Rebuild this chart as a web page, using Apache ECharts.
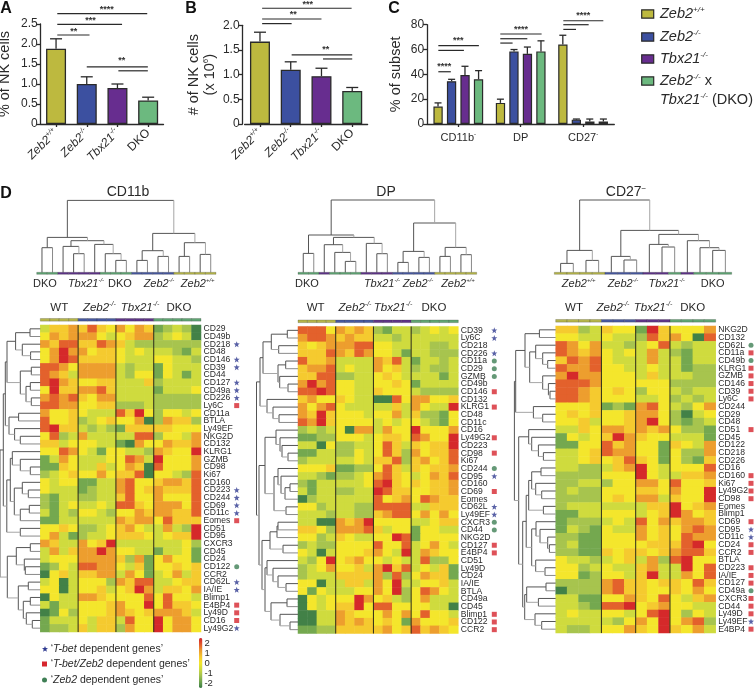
<!DOCTYPE html>
<html><head><meta charset="utf-8">
<style>html,body{margin:0;padding:0;background:#fff}#c{width:754px;height:688px}</style>
<script src="https://cdn.jsdelivr.net/npm/echarts@6/dist/echarts.min.js"></script>
</head><body><div id="c"></div>
<script>
// ---------- bar panels ----------
const genotypes = ['Zeb2+/+','Zeb2-/-','Tbx21-/-','DKO'];
const pctNK = [1.88,1.00,0.90,0.59];
const pctNKErr = [2.13,1.18,1.00,0.67];
const numNK = [1.67,1.10,0.97,0.67];
const numNKErr = [1.86,1.26,1.13,0.74];
const subsets = ['CD11b-','DP','CD27-'];
const subsetWT = [14,17,64];
const subsetZeb2 = [34.5,58.5,3.5];
const subsetTbx21 = [39.5,56.5,2];
const subsetDKO = [36,58.5,2];
const subsetWTErr = [17,20,71.5];
const subsetZeb2Err = [36,60,4];
const subsetTbx21Err = [46.5,62,4];
const subsetDKOErr = [43,67,4];
// significance: [from, to, value]
const sigA = [[0.04,2.97,2.76],[0.04,2.15,2.49],[0.04,1.09,2.225],[1,2.99,1.43],[2.03,2.99,1.33]];
const starsA = [[1.65,2.875,'****'],[1.12,2.6,'***'],[0.58,2.33,'**'],[2.14,1.6,'**']];
const sigB = [[0.07,2.98,2.345],[0.07,2,2.128],[0.07,1.03,2.034],[1.03,3,1.399],[2.05,3,1.318]];
const starsB = [[1.55,2.446,'***'],[1.08,2.23,'**'],[2.14,1.52,'**']];
const sigC = [[-0.32,0.33,63.1],[-0.32,0.09,59.3],[-0.32,-0.12,42.1],[0.673,1.335,72.5],[0.673,1.106,68.7],[0.673,0.87,65.2],[1.683,2.324,83.2],[1.683,2.089,80],[1.683,1.886,76.2]];
const starsC = [[0,67.7,'***'],[-0.224,47.5,'****'],[1.004,77,'****'],[2.003,88.3,'****']];

// ---------- heatmap rows ----------
const rowsCD11b = ['CD29','CD49b','CD218','CD48','CD146','CD39','CD44','CD127','CD49a','CD226','Ly6C','CD11a','BTLA','Ly49EF','NKG2D','CD132','KLRG1','GZMB','CD98','Ki67','CD160','CD223','CD244','CD69','CD11c','Eomes','CD51','CD95','CXCR3','CD45','CD24','CD122','CCR2','CD62L','IA/IE','Blimp1','E4BP4','Ly49D','CD16','Ly49G2'];
const rowsDP = ['CD39','Ly6C','CD218','CD226','CD11a','CD29','GZMB','CD49b','CD146','CD132','KLRG1','CD48','CD11c','CD16','Ly49G2','CD223','CD98','Ki67','CD244','CD95','CD160','CD69','Eomes','CD62L','Ly49EF','CXCR3','CD44','NKG2D','CD127','E4BP4','CD51','Ly49D','CD24','IA/IE','BTLA','CD49a','CD45','Blimp1','CD122','CCR2'];
const rowsCD27 = ['NKG2D','CD132','CD62L','CD11a','CD49b','KLRG1','GZMB','CD146','CD39','Ly6C','CD244','CD29','CD48','CD51','CD45','CD122','CD218','CD226','CD16','CD160','Ki67','Ly49G2','CD98','Eomes','Blimp1','CD69','CD95','CD11c','CD24','CCR2','BTLA','CD223','IA/IE','CD127','CD49a','CXCR3','CD44','Ly49D','Ly49EF','E4BP4'];
// colour levels, -4 (dark green) .. 4 (red)
const heatCD11b = [
[-1,1,1,2,1,3,1,0,2,0,2,1,-3,-2,-1,-2,-4],
[0,2,1,2,2,2,0,-1,0,1,2,2,-2,-1,0,-1,-4],
[2,1,3,3,1,1,3,2,1,-1,-2,-2,-2,-2,-2,-2,-2],
[0,2,4,2,2,0,1,1,0,-1,0,-1,-1,-1,-2,-3,-1],
[0,2,4,3,1,1,1,1,0,-1,-1,-1,0,0,-1,-1,-2],
[3,3,2,0,2,2,2,2,-1,-2,-1,-1,-3,0,-1,-1,-1],
[3,2,1,-1,2,2,2,2,-1,-2,0,0,-3,0,-1,-3,-1],
[3,4,2,1,0,0,1,1,-1,-1,-1,1,-2,-1,-1,-1,-1],
[0,4,1,1,2,2,3,1,-1,-1,-1,-1,-3,-1,-1,-1,0],
[2,3,2,3,1,0,2,2,-1,-1,-1,-1,-2,-2,-2,-2,-2],
[3,3,2,2,0,0,1,1,-2,-2,-2,-1,-2,-2,-2,-2,-2],
[2,0,0,1,0,-1,-1,-1,3,1,4,0,-2,0,0,-1,0],
[3,0,0,1,-2,-1,0,1,0,0,2,-4,-2,2,1,1,-2],
[3,4,1,1,-1,-2,-1,-2,-3,1,1,1,1,1,0,0,0],
[0,3,-2,-1,2,-1,-1,-1,-1,-1,3,3,-2,0,0,-1,2],
[1,1,-1,0,0,0,-1,-1,-3,-4,2,0,0,2,1,1,2],
[0,0,3,2,0,-1,-3,0,0,-1,-1,-2,2,1,0,0,4],
[-3,-1,2,0,-1,-1,-1,0,0,3,2,-1,4,0,0,0,2],
[-3,-3,1,0,-1,-1,1,-1,0,2,1,-4,3,0,0,0,2],
[-2,-1,0,1,0,0,2,0,1,1,3,-4,0,0,-1,-2,3],
[0,-1,0,0,-3,-3,-1,-1,2,3,0,0,1,2,2,1,3],
[0,-1,-1,-1,-3,-2,-1,-1,2,3,0,1,2,1,1,1,3],
[-2,-3,-1,-1,-2,-2,-1,-1,1,3,0,0,2,0,0,0,3],
[-2,-3,-1,0,-1,-1,0,-1,3,3,1,0,2,2,2,0,3],
[-1,-3,-1,-2,0,0,-1,-2,0,0,2,1,2,2,1,1,3],
[-3,-3,-1,-1,-1,-1,-1,-1,2,1,2,2,0,3,1,1,1],
[0,0,1,0,-2,-2,-1,0,1,2,0,-1,-1,2,-1,-2,4],
[0,2,-1,-3,-2,-1,-1,0,1,1,1,0,-1,0,1,1,4],
[2,1,-1,-1,2,0,1,4,-1,-1,-1,-1,-1,-1,-1,0,-2],
[-1,2,-1,1,2,2,4,2,0,0,-1,-1,-3,-1,-1,0,-3],
[-1,0,0,0,2,2,2,2,1,-2,2,-3,0,2,0,0,-3],
[-3,-2,0,-1,3,3,2,2,0,-1,1,-3,0,0,1,0,1],
[-4,0,1,-1,1,1,2,2,-1,2,0,-3,-1,0,2,-1,1],
[-1,0,-4,-1,0,0,0,-2,2,1,3,3,-1,-1,0,1,1],
[0,0,-4,-1,0,0,1,-1,0,1,4,2,-1,1,1,0,2],
[-4,0,-1,-1,2,2,1,0,0,0,0,3,0,3,0,0,-1],
[-1,-3,-1,-1,0,0,0,1,2,0,0,4,0,3,1,1,0],
[-4,-3,0,-2,0,0,0,1,2,1,0,1,2,2,2,1,-1],
[-3,-1,-1,-1,0,-1,1,1,-1,3,0,0,4,0,2,2,0],
[-3,-2,-2,-1,1,-1,1,1,-2,2,0,0,4,0,2,2,0]];
const heatDP = [
[3,3,3,0,2,1,2,1,-2,-3,-1,-1,-2,-1,0,-1,0],
[2,3,3,2,1,2,1,1,-1,-1,-2,-1,-1,-1,-1,-1,-1],
[1,0,1,2,2,2,3,3,0,0,-1,-1,-1,-1,-2,-2,-1],
[1,1,1,3,2,1,3,2,0,0,-1,-3,-1,-1,-2,-2,-2],
[3,1,1,2,-1,-1,-1,-1,2,1,3,-1,-3,-1,-1,-2,-1],
[1,2,2,3,-1,0,-1,-1,2,0,1,-1,-2,-1,-2,-2,-1],
[1,1,3,3,-2,-2,-1,-1,0,1,0,-1,-1,-1,-1,-3,-1],
[2,4,2,3,0,0,-1,-1,0,0,1,0,-3,-1,-1,-1,-1],
[3,3,4,3,0,0,-1,-1,1,0,0,0,-1,-2,-2,-2,-2],
[1,2,0,0,1,0,-1,-1,-4,-4,3,0,2,2,0,0,1],
[2,0,2,3,0,-1,-1,-1,-1,-1,1,-1,2,0,-1,-1,4],
[2,1,4,1,0,0,0,-1,0,0,2,-1,1,-2,-2,-3,0],
[3,2,4,1,0,0,0,0,-1,0,-1,0,0,-1,-2,-3,0],
[-2,-1,-2,-1,0,-4,2,2,-1,2,0,0,4,0,0,0,2],
[-3,-3,-2,-2,0,0,0,-1,0,1,1,0,3,2,0,0,4],
[-1,-1,-4,0,-2,-2,-1,-1,0,3,1,-1,1,0,1,1,4],
[-3,-3,-1,-1,-2,-2,0,-1,0,3,1,-2,2,0,1,1,3],
[-2,-1,-1,-1,-1,-1,0,-1,1,1,3,-2,1,2,0,1,3],
[0,0,0,1,-3,-3,-2,-2,0,3,1,-1,1,0,1,1,2],
[-1,-1,-2,-3,-2,-2,-1,0,2,3,1,0,-1,0,2,1,3],
[-2,-3,-1,-1,-1,-1,-1,0,3,4,1,0,1,0,1,1,2],
[-1,-3,-1,-1,-2,-2,-1,-1,4,3,1,1,0,0,1,1,2],
[-4,-2,-1,-1,-1,-1,-1,-1,3,0,1,2,0,3,2,1,1],
[0,0,-2,-1,-1,-1,-2,-2,3,3,3,3,-1,-1,1,1,1],
[-1,-1,-1,-2,-1,-1,-2,-2,1,2,3,3,0,2,0,2,0],
[-1,-1,-4,-4,2,1,2,4,0,0,0,0,-1,-1,0,1,1],
[1,1,0,-2,2,2,2,3,1,-1,0,0,-3,0,0,-1,-1],
[0,0,-2,-1,1,0,-1,-1,0,0,4,3,-3,0,0,0,0],
[-2,-1,-2,-2,0,0,0,0,3,0,0,3,-1,0,2,0,-1],
[0,-1,-4,-1,0,0,0,1,2,0,-1,4,-1,2,1,0,0],
[-1,-2,0,4,0,1,2,0,0,-1,0,-1,-1,3,-2,-2,0],
[-2,-1,0,2,0,0,1,-1,2,4,1,3,-1,0,-1,1,-3],
[-2,-1,-1,-1,1,1,1,1,2,-2,3,-2,0,2,1,1,-3],
[0,0,-4,-1,-1,1,1,-1,2,0,4,-1,-1,0,0,1,-1],
[0,-3,0,-1,-1,-1,0,0,2,0,4,-2,0,3,2,0,-1],
[-4,0,-1,0,0,0,4,2,0,1,-1,-2,0,2,-1,-1,-1],
[-4,0,-1,0,1,1,4,0,3,3,0,0,0,0,-1,-1,-4],
[-4,-4,-1,-1,2,1,0,0,0,2,0,2,0,3,0,0,-1],
[-4,-4,-1,-1,2,1,2,1,0,1,0,-3,2,0,0,0,1],
[-3,-3,-2,-2,1,1,1,1,1,2,0,1,3,1,2,1,0]];
const heatCD27 = [
[1,1,-2,-1,1,0,0,-3,4,1,0,0,0,2],
[0,0,-1,-1,0,-1,-1,-2,3,1,2,0,-4,3],
[3,2,0,2,-1,-1,-2,-1,0,3,-1,-2,-1,-1],
[3,2,1,2,0,-1,0,-1,2,-1,-2,-3,-1,-1],
[1,3,2,3,0,-1,-1,-1,2,-1,-1,-3,-1,-1],
[3,2,2,3,0,0,-1,-1,0,-1,-1,-3,-2,-2],
[2,4,2,2,0,0,0,-1,1,-1,-1,-1,-2,-2],
[3,3,3,2,0,0,0,0,0,0,-2,-2,-2,-2],
[3,3,2,1,0,1,0,-2,0,0,-1,-2,-1,-1],
[3,3,2,1,0,0,0,-1,-1,0,-2,-1,-2,-1],
[0,0,0,1,-3,-2,-3,2,3,0,-1,-2,0,2],
[0,1,0,1,0,0,1,2,2,0,-2,-4,-1,0],
[0,0,1,-1,0,0,1,2,4,0,-2,-3,-2,-1],
[-1,-1,1,0,2,2,1,2,1,2,0,-2,-2,-3],
[-3,0,-1,0,1,4,2,1,0,0,-1,-1,-1,-3],
[-3,-3,0,0,3,1,2,0,0,-3,1,0,-1,2],
[-1,-1,0,1,3,2,2,0,0,-3,0,-2,-2,2],
[-1,-1,0,1,0,1,3,1,0,-3,0,-2,-3,1],
[-1,-1,-2,-2,-1,1,2,4,0,-1,0,0,0,3],
[-2,-2,-2,-2,0,0,0,4,0,-1,-1,1,1,2],
[-2,-2,-1,-1,-2,0,0,2,2,0,3,0,0,1],
[-2,-1,-2,-2,0,0,0,1,1,0,2,0,0,4],
[-2,-2,-2,-2,0,1,0,2,2,-1,1,0,0,4],
[-2,-1,-1,-1,-1,-1,-1,-1,1,1,4,0,1,2],
[-3,-3,-1,-1,0,0,0,-1,0,1,4,2,0,1],
[-3,-2,-2,-2,-1,0,-1,3,0,2,1,2,2,1],
[-3,-1,-2,-3,0,-1,-1,2,0,1,0,2,3,2],
[-2,-2,-3,-3,0,0,0,2,0,1,0,3,2,2],
[-2,-1,-3,-3,0,0,0,0,1,1,1,3,4,0],
[-2,-2,-3,-3,1,0,1,1,0,1,2,3,3,1],
[0,-1,-1,-2,-1,0,1,-1,2,-2,3,4,0,0],
[0,0,-2,-1,0,-1,-1,1,2,-1,-1,4,0,3],
[0,0,-3,-2,0,0,-1,1,4,-1,-1,2,0,3],
[-2,-2,-2,-2,2,3,1,1,0,1,1,0,3,1],
[-4,-2,-2,-2,2,3,1,1,0,0,1,0,2,0],
[-1,-1,-3,-3,0,0,2,1,0,3,0,-1,1,2],
[-1,-1,-2,-3,3,3,4,0,1,2,0,0,-1,-1],
[-1,0,-1,-1,0,0,-1,0,3,4,0,-2,0,-1],
[-1,-1,-1,-1,-1,-2,0,2,0,4,0,2,3,-2],
[-1,-2,-2,-1,0,0,2,1,0,4,1,0,2,-1]];
const zPerLevel = 0.6;
const levelColors = ['#3a7a45','#6ea44f','#a4c24f','#cddb3f','#f4e62c','#f5c92f','#ec9a2e','#e2592c','#d2202a'];

// group sizes along the columns of each heatmap
const heatGroups = ['WT','Zeb2-/-','Tbx21-/-','DKO'];
const groupsCD11b = [4,4,4,5];
const groupsDP = [4,4,4,5];
const groupsCD27 = [4,3,3,4];

// dendrogram trees: [height, left, right]; 0 = next leaf
const colTreeCD11b = [72.3,[35.3,[25,0,0],[32,[26.3,0,[19,0,0]],[28.3,0,[19,0,[12.3,0,0]]]]],[39.3,[22,[12.3,0,0],[16.3,0,0]],[30,[16.3,0,0],[18.3,0,0]]]];
const colTreeDP = [72.7,[37.7,[19.3,0,0],[35.3,[28,0,[20.3,0,[11.3,0,0]]],[29.3,0,[19,0,0]]]],[49.7,[21.3,[10.3,0,0],[15.3,0,0]],[25.3,[16.3,0,0],[18,0,0]]]];
const colTreeCD27 = [72.7,[22.3,[9.3,0,0],[12.3,0,0]],[42.3,[16.3,0,[12.7,0,0]],[38.3,[28.3,0,[25.7,0,0]],[32,0,[25,0,[22.3,0,0]]]]]];
// leaf colours along each column tree (index into genotypes)
const colLeavesCD11b = [3,3,2,2,2,2,3,3,3,1,1,1,1,0,0,0,0];
const colLeavesDP = [3,3,2,3,3,3,2,2,2,1,1,1,1,0,0,0,0];
const colLeavesCD27 = [0,0,0,0,1,1,1,2,2,3,2,3,3,3];

const rowTreeCD11b = [40.3,[37,[35,[33.3,[24.7,[10.3,0,0],[18,0,[9.7,0,0]]],[20,[9,0,0],[14.3,[10,0,0],[9,0,0]]]],[31.3,[21.7,0,0],[25.7,0,[20,0,0]]]],[33.5,[30,[28,0,[20,0,[10,0,0]]],[26,[18,0,[12,0,0]],[20,[11,0,0],0]]],[20,0,0]]],[33,[24,[10,0,0],[16,0,[15,0,0]]],[22,[12,0,0],[17,[10,0,0],[14,0,[8,0,0]]]]]];
const rowTreeDP = [41.5,[38,[35,[26.7,[10.7,0,0],[19.3,0,0]],[20,[12.3,0,0],[18.3,0,[10,0,0]]]],[31,0,[25,0,[19,0,0]]]],[39,[33,[22,0,[18,0,[16,0,[10,0,0]]]],[24,[20,0,[17,0,[13,[8,0,0],0]]],[12,0,0]]],[36,[28,[21,[20,0,0],0],[15,0,0]],[33,[31,0,[25,0,[20,0,[12,0,0]]]],[27,[11,0,0],[18,0,[8,0,0]]]]]]];
const rowTreeCD27 = [41.3,[40,[30.7,[16.3,0,0],[26,[20,0,[13,0,[8,0,0]]],[13,0,[7.3,0,[5.7,0,0]]]]],[22.3,0,[13,0,0]]],[37,[27,0,[24,0,[17.3,0,[12.3,0,0]]]],[33,[29.5,[27,[24,[14.7,0,0],[20,0,[14,0,0]]],[12.3,0,0]],[24,[19.7,0,[15.7,0,[8,0,[6.3,0,0]]]],[20,0,[10.7,0,0]]]],[31,[29,[9.7,0,0],[17.3,0,0]],[20.7,0,[14,0,0]]]]]];

// dependent-gene markers
const tBetCD11b = ['CD218','CD146','CD39','CD127','CD49a','CD226','CD223','CD244','CD69','CD11c','CD62L','IA/IE','Ly49G2'];
const bothCD11b = ['Ly6C','Eomes','E4BP4','Ly49D','CD16'];
const zebCD11b = ['CD122'];
const tBetDP = ['CD39','Ly6C','CD226','CD95','CD62L','Ly49EF'];
const bothDP = ['CD146','KLRG1','Ly49G2','CD98','CD69','CD127','E4BP4','Blimp1','CD122','CCR2'];
const zebDP = ['CD11a','CD29','GZMB','CD244','CXCR3','CD44'];
const tBetCD27 = ['CD95','CD11c','Ly49EF'];
const bothCD27 = ['CD11a','KLRG1','GZMB','CD146','CD39','Ly6C','CD51','CD160','Ki67','Ly49G2','CD98','CD69','CD24','CCR2','CD223','IA/IE','CD127','CXCR3','CD44','Ly49D','E4BP4'];
const zebCD27 = ['CD62L','CD49b','CD49a'];

// ---------- style ----------
const FONT = '"Liberation Sans",Arial,sans-serif';
const INK = '#2a2a2a';
const genoColors = ['#bdb93f','#3c50a0','#672d8f','#6cb97f'];
const bandColors = ['#b5b54a','#47589f','#5e3488','#5fa573'];
const markBlue='#2f3a90', markRed='#d6262e', markGreen='#3f7f55';
const STAR='path://M5 0L6.3 3.4L10 3.6L7.1 5.9L8.1 9.6L5 7.5L1.9 9.6L2.9 5.9L0 3.6L3.7 3.4Z';

const rich = {
  i:{fontStyle:'italic',fontFamily:FONT,color:INK},
  n:{fontFamily:FONT,color:INK},
  s:{fontStyle:'italic',fontFamily:FONT,color:INK,verticalAlign:'top'},
  u:{fontFamily:FONT,color:INK,verticalAlign:'top'}
};
function richSet(size){
  const sup=Math.round(size*0.58);
  return {
    i:{...rich.i,fontSize:size,lineHeight:size+2},
    n:{...rich.n,fontSize:size,lineHeight:size+2},
    s:{...rich.s,fontSize:sup,lineHeight:sup+1},
    u:{...rich.u,fontSize:sup,lineHeight:sup+1}
  };
}
function fmtName(n){
  let m=n.match(/^(Zeb2|Tbx21)(.*)$/);
  if(m) return '{i|'+m[1]+'}{s|'+m[2]+'}';
  m=n.match(/^(CD\d+b?)-$/);
  if(m) return '{n|'+m[1]+'}{u|-}';
  return '{n|'+n+'}';
}

const grids=[],xAxes=[],yAxes=[],series=[],graphic=[];
function addGrid(g){grids.push(Object.assign({containLabel:false,outerBoundsMode:'none'},g));return grids.length-1;}

function tx(x,y,text,size,extra){
  graphic.push({type:'text',x,y,silent:true,z:20,style:Object.assign({text,fontFamily:FONT,fontSize:size,fill:INK,
    align:'center',verticalAlign:'middle',rich:richSet(size)},extra||{})});
}
function axisStyle(){return {lineStyle:{color:INK,width:1.3}};}

function overlay(xIdx,yIdx,sig,stars,errs,capHalf){
  series.push({type:'custom',xAxisIndex:xIdx,yAxisIndex:yIdx,silent:true,z:6,clip:false,
    data:errs.map((e,i)=>[e[0],e[2]]),
    renderItem:(p,api)=>{
      const e=errs[p.dataIndex],a=api.coord([e[0],e[1]]),b=api.coord([e[0],e[2]]);
      return {type:'group',children:[
        {type:'line',shape:{x1:a[0],y1:a[1],x2:b[0],y2:b[1]},style:{stroke:INK,lineWidth:1.3}},
        {type:'line',shape:{x1:b[0]-capHalf,y1:b[1],x2:b[0]+capHalf,y2:b[1]},style:{stroke:INK,lineWidth:1.3}}]};
    }});
  series.push({type:'custom',xAxisIndex:xIdx,yAxisIndex:yIdx,silent:true,z:6,clip:false,
    data:sig.map(s=>[s[0],s[2]]),
    renderItem:(p,api)=>{
      const s=sig[p.dataIndex],a=api.coord([s[0],s[2]]),b=api.coord([s[1],s[2]]);
      return {type:'line',shape:{x1:a[0],y1:a[1],x2:b[0],y2:b[1]},style:{stroke:INK,lineWidth:1.2}};
    }});
  series.push({type:'custom',xAxisIndex:xIdx,yAxisIndex:yIdx,silent:true,z:6,clip:false,
    data:stars.map(s=>[s[0],s[1]]),
    renderItem:(p,api)=>{
      const s=stars[p.dataIndex],a=api.coord([s[0],s[1]]);
      return {type:'text',x:a[0],y:a[1]+1,style:{text:s[2],fontFamily:FONT,fontSize:9,fontWeight:'bold',fill:'#333',align:'center',verticalAlign:'middle'}};
    }});
}

function barPanel(o){
  const g=addGrid({left:o.left,top:o.top,width:o.width,height:o.height});
  const xc=xAxes.length;
  xAxes.push({type:'category',gridIndex:g,data:o.cats,boundaryGap:true,
    axisLine:axisStyle(),axisTick:{show:true,alignWithLabel:true,length:3,lineStyle:{color:INK,width:1.3}},
    axisLabel:{interval:0,rotate:o.rotate||0,margin:o.margin||6,fontFamily:FONT,fontSize:o.labSize,color:INK,
      formatter:fmtName,rich:richSet(o.labSize)},splitLine:{show:false}});
  xAxes.push({type:'value',gridIndex:g,min:-0.5,max:o.cats.length-0.5,show:false});
  const y=yAxes.length;
  yAxes.push({type:'value',gridIndex:g,min:0,max:o.max,interval:o.interval,
    axisLine:{show:true,...axisStyle(),onZero:false},axisTick:{show:true,length:4,lineStyle:{color:INK,width:1.3}},
    offset:o.axisOffset||0,
    axisLabel:{margin:3,fontFamily:FONT,fontSize:12,color:INK,
      formatter:v=>v===0?'0':(o.decimals?v.toFixed(o.decimals):String(v))},splitLine:{show:false},
    name:o.name,nameLocation:'middle',nameRotate:90,nameGap:o.nameGap,
    nameTextStyle:{fontFamily:FONT,fontSize:14.5,color:INK,rich:o.nameRich||undefined}});
  return {xc,xo:xc+1,y};
}

// Panel A
let ax=barPanel({left:40.7,top:24,width:122.8,height:100,cats:genotypes,max:2.5,interval:0.5,decimals:1,rotate:45,labSize:12,margin:7,name:'% of NK cells',nameGap:28});
series.push({type:'bar',xAxisIndex:ax.xc,yAxisIndex:ax.y,barWidth:20,z:3,
  data:pctNK.map((v,i)=>({value:v,itemStyle:{color:genoColors[i],borderColor:INK,borderWidth:1.3}}))});
overlay(ax.xo,ax.y,sigA,starsA,pctNK.map((v,i)=>[i,v,pctNKErr[i]]),6);
// Panel B
ax=barPanel({left:244.6,top:25.3,width:123,height:98.7,cats:genotypes,max:2,interval:0.5,decimals:1,rotate:45,labSize:12,margin:7,axisOffset:2,
  name:'{n|# of NK cells}\n{n|(x 10}{u|6}{n|)}',nameGap:24,nameRich:richSet(14.5)});
series.push({type:'bar',xAxisIndex:ax.xc,yAxisIndex:ax.y,barWidth:20,z:3,
  data:numNK.map((v,i)=>({value:v,itemStyle:{color:genoColors[i],borderColor:INK,borderWidth:1.3}}))});
overlay(ax.xo,ax.y,sigB,starsB,numNK.map((v,i)=>[i,v,numNKErr[i]]),6);
// Panel C
ax=barPanel({left:427.1,top:24.7,width:187.2,height:99.3,cats:subsets,max:80,interval:20,labSize:11,margin:7,name:'% of subset',nameGap:24});
const subsetVals=[subsetWT,subsetZeb2,subsetTbx21,subsetDKO];
const subsetErrs=[subsetWTErr,subsetZeb2Err,subsetTbx21Err,subsetDKOErr];
subsetVals.forEach((vals,k)=>{
  series.push({type:'bar',name:genotypes[k],xAxisIndex:ax.xc,yAxisIndex:ax.y,barWidth:9.3,barGap:'45%',z:3,
    itemStyle:{color:genoColors[k],borderColor:INK,borderWidth:1.2},data:vals});
});
const barOffsets=[-0.325,-0.107,0.107,0.325];
const errC=[];
subsetVals.forEach((vals,k)=>vals.forEach((v,i)=>errC.push([i+barOffsets[k],v,subsetErrs[k][i]])));
overlay(ax.xo,ax.y,sigC,starsC,errC,3.5);

// ---------- trees ----------
function layoutTree(tree){
  let leaf=0;const segs=[];
  (function walk(n){
    if(n===0){const p=leaf+0.5;leaf++;return {p,h:0};}
    const a=walk(n[1]),b=walk(n[2]);
    segs.push([a.p,a.h,b.p,b.h,n[0]]);
    return {p:(a.p+b.p)/2,h:n[0]};
  })(tree);
  return {segs,leaves:leaf};
}
function drawTree(xi,yi,segs,horizontal){
  const P=(api,pos,h)=>horizontal?api.coord([h,pos]):api.coord([pos,h]);
  series.push({type:'custom',xAxisIndex:xi,yAxisIndex:yi,silent:true,z:4,clip:false,
    data:segs.map((s,i)=>horizontal?[s[4],s[0]]:[s[0],s[4]]),
    renderItem:(p,api)=>{
      const s=segs[p.dataIndex];
      const a0=P(api,s[0],s[1]),a1=P(api,s[0],s[4]),b1=P(api,s[2],s[4]),b0=P(api,s[2],s[3]);
      return {type:'group',children:[
        {type:'polyline',shape:{points:[a0,a1,b1]},style:{stroke:'#555',lineWidth:1,fill:null}},
        {type:'line',shape:{x1:b1[0],y1:b1[1],x2:b0[0],y2:b0[1]},style:{stroke:s[3]===0?'#8a8a8a':'#a6a6a6',lineWidth:1}}]};
    }});
}
function leafBand(xi,yi,leafCols,yFrom,yTo){
  series.push({type:'custom',xAxisIndex:xi,yAxisIndex:yi,silent:true,z:5,clip:false,
    data:leafCols.map((c,i)=>[i,yFrom]),
    renderItem:(p,api)=>{
      const i=p.dataIndex,a=api.coord([i,yFrom]),b=api.coord([i+1,yTo]);
      return {type:'rect',shape:{x:a[0],y:Math.min(a[1],b[1]),width:b[0]-a[0],height:Math.abs(b[1]-a[1])},
        style:{fill:bandColors[leafCols[i]],stroke:'rgba(40,40,40,.45)',lineWidth:0.5}};
    }});
}

// ---------- heat panels ----------
const heatSeriesIdx=[];
function heatPanel(o){
  const nCols=o.heat[0].length,nRows=o.rows.length;
  const colNames=o.heat[0].map((_,i)=>String(i));
  const cw=o.width/nCols;
  // heat grid
  let g=addGrid({left:o.left,top:o.top,width:o.width,height:o.height});
  const xc=xAxes.length;
  xAxes.push({type:'category',gridIndex:g,data:colNames,show:false});
  xAxes.push({type:'value',gridIndex:g,min:0,max:nCols,show:false});
  const yc=yAxes.length;
  yAxes.push({type:'category',gridIndex:g,data:o.rows,inverse:true,position:'right',
    axisLine:{show:false},axisTick:{show:false},
    axisLabel:{interval:0,margin:2.5,fontFamily:FONT,fontSize:8.6,color:'#2b2b2b',hideOverlap:false}});
  yAxes.push({type:'value',gridIndex:g,min:0,max:nRows,inverse:true,show:false});
  const data=[];
  o.heat.forEach((r,j)=>r.forEach((v,i)=>data.push([i,j,v*zPerLevel])));
  heatSeriesIdx.push(series.length);
  series.push({type:'heatmap',xAxisIndex:xc,yAxisIndex:yc,data,silent:true,z:2,progressive:0,itemStyle:{borderWidth:0}});
  // dividers
  const bounds=[];let acc=0;o.groups.slice(0,-1).forEach(n=>{acc+=n;bounds.push(acc);});
  series.push({type:'custom',xAxisIndex:xc+1,yAxisIndex:yc+1,silent:true,z:5,clip:false,
    data:bounds.map(b=>[b,0]),
    renderItem:(p,api)=>{
      const a=api.coord([bounds[p.dataIndex],0]),b=api.coord([bounds[p.dataIndex],nRows]);
      return {type:'line',shape:{x1:a[0],y1:a[1],x2:b[0],y2:b[1]},style:{stroke:'#2a2a1a',lineWidth:1}};
    }});
  // group band above heat
  const topLeaves=[];o.groups.forEach((n,k)=>{for(let i=0;i<n;i++)topLeaves.push(k);});
  leafBand(xc+1,yc+1,topLeaves,-0.85,-0.5);
  // markers
  const markX=nCols+o.markOffset/cw;
  const marks=(names,symbol,size,color)=>series.push({type:'scatter',xAxisIndex:xc+1,yAxisIndex:yc+1,silent:true,z:6,clip:false,
    symbol,symbolSize:size,itemStyle:{color},
    data:names.map(n=>[markX,o.rows.indexOf(n)+0.5])});
  marks(o.tBet,STAR,6,markBlue);marks(o.both,'rect',5,markRed);marks(o.zeb,'circle',5,markGreen);
  // row tree
  const rowT=layoutTree(o.rowTree);const rowH=o.rowTree[0]+0.3;
  g=addGrid({left:o.left-rowH,top:o.top,width:rowH,height:o.height});
  let xi=xAxes.length,yi=yAxes.length;
  xAxes.push({type:'value',gridIndex:g,min:0,max:rowH,inverse:true,show:false});
  yAxes.push({type:'value',gridIndex:g,min:0,max:nRows,inverse:true,show:false});
  drawTree(xi,yi,rowT.segs,true);
  // column tree
  const colT=layoutTree(o.colTree);
  g=addGrid({left:o.treeLeft,top:o.treeBase-75,width:o.treeWidth,height:75});
  xi=xAxes.length;yi=yAxes.length;
  xAxes.push({type:'value',gridIndex:g,min:0,max:colT.leaves,show:false});
  yAxes.push({type:'value',gridIndex:g,min:0,max:75,show:false});
  drawTree(xi,yi,colT.segs,false);
  leafBand(xi,yi,o.colLeaves,-1.6,0.4);
  // titles
  tx(o.titleX,192.5,o.title,14,{rich:richSet(14)});
  o.treeLabels.forEach(l=>tx(l[0],284,fmtName(l[1]),11));
  heatGroups.forEach((n,k)=>tx(o.groupX[k],307.5,fmtName(n),11.5));
}
heatPanel({title:'CD11b',titleX:128,left:40.3,top:325,width:160.7,height:307,rows:rowsCD11b,heat:heatCD11b,groups:groupsCD11b,
  rowTree:rowTreeCD11b,colTree:colTreeCD11b,colLeaves:colLeavesCD11b,treeLeft:36.7,treeWidth:179.3,treeBase:272.7,
  tBet:tBetCD11b,both:bothCD11b,zeb:zebCD11b,markOffset:35.7,
  treeLabels:[[45,'DKO'],[86,'Tbx21-/-'],[120,'DKO'],[159,'Zeb2-/-'],[197.7,'Zeb2+/+']],groupX:[59.3,99.3,140,179]});
heatPanel({title:'DP',titleX:386,left:298,top:326.5,width:160.3,height:307,rows:rowsDP,heat:heatDP,groups:groupsDP,
  rowTree:rowTreeDP,colTree:colTreeDP,colLeaves:colLeavesDP,treeLeft:298,treeWidth:178.7,treeBase:272.7,
  tBet:tBetDP,both:bothDP,zeb:zebDP,markOffset:36,
  treeLabels:[[307,'DKO'],[382,'Tbx21-/-'],[418,'Zeb2-/-'],[458,'Zeb2+/+']],groupX:[315.7,355,393,434]});
heatPanel({title:'{n|CD27}{u|\u2212}',titleX:626,left:555.7,top:326,width:160,height:307,rows:rowsCD27,heat:heatCD27,groups:groupsCD27,
  rowTree:rowTreeCD27,colTree:colTreeCD27,colLeaves:colLeavesCD27,treeLeft:554.3,treeWidth:177.4,treeBase:272.7,
  tBet:tBetCD27,both:bothCD27,zeb:zebCD27,markOffset:35.3,
  treeLabels:[[578.7,'Zeb2+/+'],[623,'Zeb2-/-'],[666.7,'Tbx21-/-'],[712.7,'DKO']],groupX:[574,613,653,692.7]});

// colour-bar axis
{
  const g=addGrid({left:199,top:638,width:3.4,height:50});
  const xi=xAxes.length,yi=yAxes.length;
  xAxes.push({type:'value',gridIndex:g,min:0,max:1,show:false});
  yAxes.push({type:'value',gridIndex:g,min:-2.5,max:2.5,position:'right',axisLine:{show:false},axisTick:{show:false},splitLine:{show:false},
    axisLabel:{customValues:[-2,-1,0,1,2],margin:2,fontFamily:FONT,fontSize:9.5,color:INK,showMinLabel:true,showMaxLabel:true}});
  series.push({type:'scatter',xAxisIndex:xi,yAxisIndex:yi,data:[],silent:true});
}

// panel letters
[['A',6,9],['B',191,9],['C',394,9],['D',6,193.5]].forEach(l=>tx(l[1],l[2],l[0],16,{fontWeight:'bold',fill:'#111'}));

// genotype legend (top right)
const legendRows=[[14,'{i|Zeb2}{s|+/+}'],[37,'{i|Zeb2}{s|-/-}'],[59,'{i|Tbx21}{s|-/-}'],[81,'{i|Zeb2}{s|-/-}{n| x}']];
legendRows.forEach((r,k)=>{
  graphic.push({type:'rect',silent:true,z:20,shape:{x:641.7,y:r[0]-4.2,width:12,height:8.4},style:{fill:genoColors[k],stroke:INK,lineWidth:1.2}});
  tx(660,r[0],r[1],14.5,{align:'left'});
});
tx(660,100,'{i|Tbx21}{s|-/-}{n| (DKO)}',14.5,{align:'left'});

// dependent-gene legend (bottom)
const geneLegend=[[649,"{n|\u2018}{i|T-bet}{n| dependent genes\u2019}"],[664,"{n|\u2018}{i|T-bet/Zeb2}{n| dependent genes\u2019}"],[680,"{n|\u2018}{i|Zeb2}{n| dependent genes\u2019}"]];
geneLegend.forEach(l=>tx(50.7,l[0],l[1],10.5,{align:'left'}));
graphic.push({type:'polygon',silent:true,z:20,shape:{points:[[45,646],[45.8,648],[48,648.2],[46.3,649.6],[46.9,651.8],[45,650.5],[43.1,651.8],[43.7,649.6],[42,648.2],[44.2,648]]},style:{fill:markBlue}});
graphic.push({type:'rect',silent:true,z:20,shape:{x:42,y:661.5,width:5,height:5},style:{fill:markRed}});
graphic.push({type:'circle',silent:true,z:20,shape:{cx:44.5,cy:680,r:2.5},style:{fill:markGreen}});

const chart=echarts.init(document.getElementById('c'),null,{renderer:'canvas'});
chart.setOption({
  animation:false,backgroundColor:'#fff',textStyle:{fontFamily:FONT},
  tooltip:{show:false},
  grid:grids,xAxis:xAxes,yAxis:yAxes,series,graphic:{elements:graphic},
  visualMap:[{type:'continuous',min:-2.5,max:2.5,seriesIndex:heatSeriesIdx,left:199,top:638,itemWidth:3.4,itemHeight:50,
    calculable:false,hoverLink:false,realtime:false,padding:0,inRange:{color:levelColors},text:null,showLabel:false}]
});
</script></body></html>
